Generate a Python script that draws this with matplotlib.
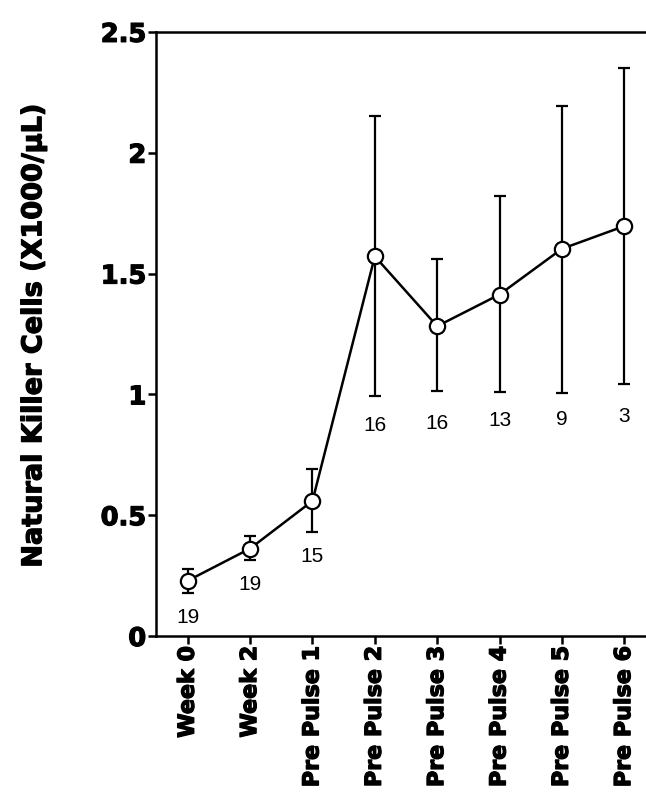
import numpy as np
import matplotlib
matplotlib.use('Agg')
import matplotlib.pyplot as plt
import matplotlib.patheffects as pe

categories = ['Week 0', 'Week 2', 'Pre Pulse 1', 'Pre Pulse 2', 'Pre Pulse 3',
              'Pre Pulse 4', 'Pre Pulse 5', 'Pre Pulse 6']
means = [0.229, 0.362, 0.559, 1.571, 1.282, 1.413, 1.602, 1.696]
err_upper = [0.278, 0.413, 0.689, 2.15, 1.558, 1.821, 2.195, 2.35]
err_lower = [0.180, 0.314, 0.431, 0.992, 1.012, 1.008, 1.006, 1.041]
n_counts = ['19', '19', '15', '16', '16', '13', '9', '3']
n_label_y = [0.078, 0.215, 0.328, 0.872, 0.880, 0.890, 0.897, 0.910]

plt.rcParams['font.family'] = ['Liberation Sans', 'DejaVu Sans']
bold_font = ['DejaVu Sans']
# scanned figure uses a very heavy face: thicken the bold text a little
heavy = [pe.withStroke(linewidth=0.9, foreground='black')]

x = np.arange(len(categories))
means = np.array(means)
yerr = np.vstack([means - np.array(err_lower), np.array(err_upper) - means])

fig = plt.figure(figsize=(6.46, 7.96), dpi=100)
ax = fig.add_axes([0.2415, 0.201, 0.7585, 0.759])

ax.errorbar(x, means, yerr=yerr, fmt='none', ecolor='black', elinewidth=1.6,
            capsize=4.5, capthick=1.6, zorder=2)
ax.plot(x, means, '-o', color='black', lw=1.8, markersize=11,
        markerfacecolor='white', markeredgecolor='black', markeredgewidth=1.6,
        zorder=3)

for xi, yi, txt in zip(x, n_label_y, n_counts):
    ax.text(xi, yi, txt, ha='center', va='center', fontsize=15)

ax.set_xlim(-0.51, 7.35)
ax.set_ylim(0, 2.5)
ax.set_yticks([0, 0.5, 1, 1.5, 2, 2.5])
ax.set_yticklabels(['0', '0.5', '1', '1.5', '2', '2.5'])
ax.set_xticks(x)
ax.set_xticklabels(categories, rotation=90, fontweight='bold', fontsize=16,
                   family=bold_font)
for lbl in ax.get_xticklabels():
    lbl.set_path_effects(heavy)
for lbl in ax.get_yticklabels():
    lbl.set_fontweight('bold')
    lbl.set_fontsize(18.5)
    lbl.set_family(bold_font)
    lbl.set_path_effects(heavy)

ax.spines['right'].set_visible(False)
for s in ['left', 'top', 'bottom']:
    ax.spines[s].set_linewidth(1.8)
ax.tick_params(axis='both', direction='out', width=1.8, length=6, pad=1)

ax.set_ylabel('Natural Killer Cells (X1000/\u00b5L)', fontsize=19.5,
              fontweight='bold', family=bold_font, path_effects=heavy)
ax.yaxis.set_label_coords(-0.222, 0.497)

fig.savefig('out.png', dpi=100)
